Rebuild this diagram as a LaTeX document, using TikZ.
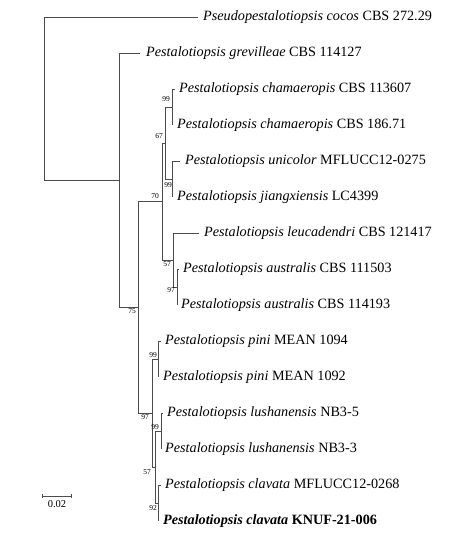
\documentclass[tikz,border=0pt]{standalone}
\usepackage{fontspec}
\setmainfont{Liberation Serif}
\usetikzlibrary{arrows.meta}
\tikzset{
  br/.style={draw=black!70, line width=0.8pt},
  leaf/.style={anchor=west, inner sep=0pt, font=\fontsize{14.2}{16}\selectfont},
  bs/.style={inner sep=0pt, font=\fontsize{7.5}{8}\selectfont},
}
\begin{document}
\begin{tikzpicture}[x=1pt,y=-1pt]
\useasboundingbox (0,0) rectangle (475,546);
% tips
\coordinate (t0) at (198,17);
\coordinate (t1) at (140,53);
\coordinate (t2) at (175,89);
\coordinate (t3) at (172,125);
\coordinate (t4) at (180,161);
\coordinate (t5) at (172,197);
\coordinate (t6) at (199,233);
\coordinate (t7) at (179,269);
\coordinate (t8) at (177,305);
\coordinate (t9) at (161,341);
\coordinate (t10) at (158,377);
\coordinate (t11) at (163,413);
\coordinate (t12) at (161,449);
\coordinate (t13) at (161,485);
\coordinate (t14) at (158,521);
% internal nodes
\coordinate (ncham) at (172,107);
\coordinate (nuj) at (172,179);
\coordinate (n67) at (165,143);
\coordinate (naus) at (177,287);
\coordinate (n57a) at (173,260);
\coordinate (n70) at (162,201.5);
\coordinate (npini) at (158,359);
\coordinate (nlus) at (161,431);
\coordinate (nclav) at (158,503);
\coordinate (n57b) at (155,467);
\coordinate (n97) at (152,413);
\coordinate (n75) at (138,307.25);
\coordinate (ngrev) at (119,180.1);
\coordinate (root) at (44,98.5);
% branches
\draw[br] (root) |- (t0);
\draw[br] (root) |- (ngrev);
\draw[br] (ngrev) |- (t1);
\draw[br] (ngrev) |- (n75);
\draw[br] (n75) |- (n70);
\draw[br] (n75) |- (n97);
\draw[br] (n70) |- (n67);
\draw[br] (n70) |- (n57a);
\draw[br] (n67) |- (ncham);
\draw[br] (n67) |- (nuj);
\draw[br] (ncham) |- (t2);
\draw[br] (ncham) |- (t3);
\draw[br] (nuj) |- (t4);
\draw[br] (nuj) |- (t5);
\draw[br] (n57a) |- (t6);
\draw[br] (n57a) |- (naus);
\draw[br] (naus) |- (t7);
\draw[br] (naus) |- (t8);
\draw[br] (n97) |- (npini);
\draw[br] (n97) |- (n57b);
\draw[br] (npini) |- (t9);
\draw[br] (npini) |- (t10);
\draw[br] (n57b) |- (nlus);
\draw[br] (n57b) |- (nclav);
\draw[br] (nlus) |- (t11);
\draw[br] (nlus) |- (t12);
\draw[br] (nclav) |- (t13);
\draw[br] (nclav) |- (t14);
% leaf labels
\node[leaf] (l0) at ([xshift=5pt]t0) {\textit{Pseudopestalotiopsis cocos} CBS 272.29};
\node[leaf] (l1) at ([xshift=6pt]t1) {\textit{Pestalotiopsis grevilleae} CBS 114127};
\node[leaf] (l2) at ([xshift=4pt]t2) {\textit{Pestalotiopsis chamaeropis} CBS 113607};
\node[leaf] (l3) at ([xshift=5pt]t3) {\textit{Pestalotiopsis chamaeropis} CBS 186.71};
\node[leaf] (l4) at ([xshift=5pt]t4) {\textit{Pestalotiopsis unicolor} MFLUCC12-0275};
\node[leaf] (l5) at ([xshift=5pt]t5) {\textit{Pestalotiopsis jiangxiensis} LC4399};
\node[leaf] (l6) at ([xshift=5pt]t6) {\textit{Pestalotiopsis leucadendri} CBS 121417};
\node[leaf] (l7) at ([xshift=4pt]t7) {\textit{Pestalotiopsis australis} CBS 111503};
\node[leaf] (l8) at ([xshift=4pt]t8) {\textit{Pestalotiopsis australis} CBS 114193};
\node[leaf] (l9) at ([xshift=4pt]t9) {\textit{Pestalotiopsis pini} MEAN 1094};
\node[leaf] (l10) at ([xshift=5pt]t10) {\textit{Pestalotiopsis pini} MEAN 1092};
\node[leaf] (l11) at ([xshift=4pt]t11) {\textit{Pestalotiopsis lushanensis} NB3-5};
\node[leaf] (l12) at ([xshift=4pt]t12) {\textit{Pestalotiopsis lushanensis} NB3-3};
\node[leaf] (l13) at ([xshift=4pt]t13) {\textit{Pestalotiopsis clavata} MFLUCC12-0268};
\node[leaf] (l14) at ([xshift=5pt]t14) {\textbf{\textit{Pestalotiopsis clavata} KNUF-21-006}};
% bootstrap values
\node[bs] (b1) at (166,99) {99};
\node[bs] (b2) at (159,136) {67};
\node[bs] (b3) at (168,185) {99};
\node[bs] (b4) at (155,196) {70};
\node[bs] (b5) at (167,264) {57};
\node[bs] (b6) at (171,290) {97};
\node[bs] (b7) at (132,311) {75};
\node[bs] (b8) at (153,355) {99};
\node[bs] (b9) at (145,417) {97};
\node[bs] (b10) at (155,427) {99};
\node[bs] (b11) at (147,472) {57};
\node[bs] (b12) at (153,508) {92};
% scale bar
\coordinate (sa) at (42,496);
\coordinate (sb) at (72,496);
\draw[br, {Bar[width=4pt]}-{Bar[width=4pt]}] (sa) -- (sb);
\node[inner sep=0pt, font=\fontsize{10.5}{12}\selectfont] (sl) at (57,504) {0.02};
\end{tikzpicture}
\end{document}
